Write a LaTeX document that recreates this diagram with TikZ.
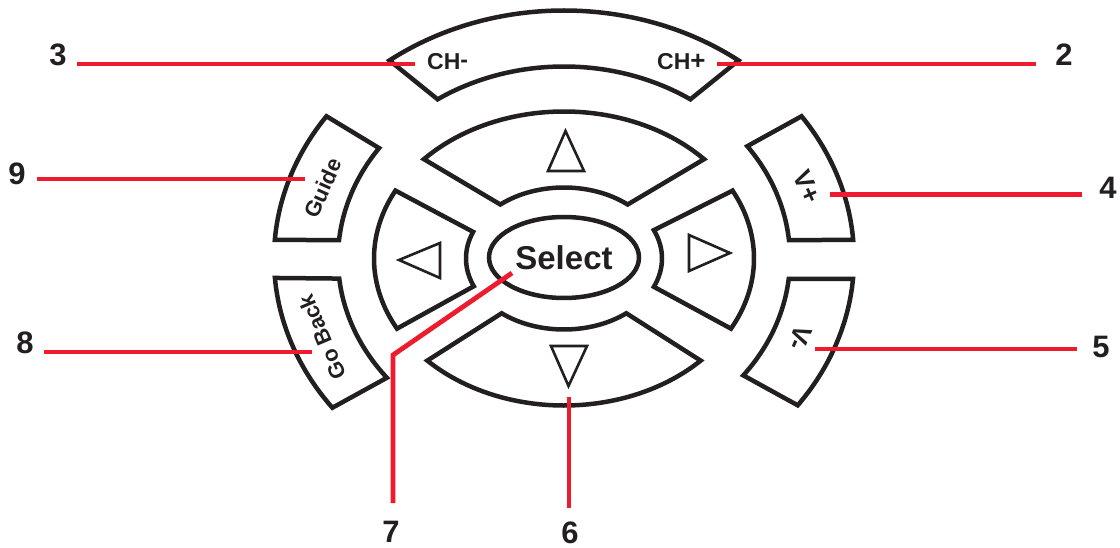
\documentclass[tikz,border=0pt]{standalone}
\usepackage{fontspec}
\setmainfont{Liberation Sans}
\usetikzlibrary{shapes.geometric}
\definecolor{ink}{RGB}{35,31,32}
\definecolor{leadred}{RGB}{237,27,45}
\newcommand\ringbutton[8]{%
  \draw[btnline] ([shift={(C)}]#1:#5 and #6) arc[start angle=#1, end angle=#2, x radius=#5, y radius=#6]
    -- ([shift={(C)}]#3:#7 and #8) arc[start angle=#3, end angle=#4, x radius=#7, y radius=#8] -- cycle;}
\newcommand\fsz[1]{\fontsize{#1}{#1}\selectfont}
\tikzset{
  btnline/.style={draw=ink, line width=4.5pt, fill=white},
  arrowtri/.style={draw=ink, line width=2.6pt},
  lead/.style={draw=leadred, line width=4.8pt},
  numlabel/.style={text=ink, font=\bfseries\fsz{31}, inner sep=0pt},
  btntext/.style={text=ink, font=\bfseries\fsz{22}, inner sep=0pt},
}
\begin{document}
\begin{tikzpicture}[x=1pt,y=1pt]
\useasboundingbox (0,0) rectangle (1120,547);
\coordinate (C) at (564,288.5);
% outer ring buttons
\ringbutton{53}{127}{124}{56}{290pt}{248pt}{226pt}{192pt}
\ringbutton{145}{175.7}{174.5}{144.9}{290pt}{248pt}{226pt}{192pt}
\ringbutton{184.5}{217}{218.4}{186}{290pt}{248pt}{226pt}{192pt}
\ringbutton{35}{4.3}{5.5}{35.8}{290pt}{248pt}{226pt}{192pt}
\ringbutton{-4.7}{-36.3}{-37.5}{-6.1}{290pt}{248pt}{226pt}{192pt}
% d-pad
\ringbutton{42.5}{137.5}{130.5}{49.5}{190pt}{147pt}{98pt}{71pt}
\ringbutton{224}{316}{309.5}{230.5}{190pt}{147pt}{98pt}{71pt}
\ringbutton{152.5}{208.5}{203}{158}{190pt}{147pt}{98pt}{71pt}
\ringbutton{-28.5}{27.5}{23.5}{-23.5}{190pt}{147pt}{98pt}{71pt}
% arrows
\draw[arrowtri] (565.5,416) -- (548,376) -- (584,376) -- cycle;
\draw[arrowtri] (551,201) -- (587,201) -- (568.5,161) -- cycle;
\draw[arrowtri] (399,287) -- (440,304) -- (440,269) -- cycle;
\draw[arrowtri] (689,312) -- (689,276) -- (730,294) -- cycle;
% select
\node[ellipse, draw=ink, line width=4.5pt, minimum width=150pt, minimum height=81pt, inner sep=0pt,
      text=ink, font=\bfseries\fsz{33}] (sel) at (564,289.5) {Select};
% button texts
\node[btntext, font=\bfseries\fsz{23}, anchor=base west] (chm) at (427,477) {CH\raisebox{0.1em}{-}};
\node[btntext, font=\bfseries\fsz{23}, anchor=base west] (chp) at (657,477) {CH\raisebox{0.02em}{\fsz{26}+}};
\node[btntext, rotate=66] (guide) at (323,359) {Guide};
\node[btntext, rotate=113] (goback) at (322,210) {Go Back};
\node[btntext, font=\bfseries\fsz{26}, rotate=-66] (vp) at (807,360) {V+};
\node[btntext, font=\bfseries\fsz{26}, rotate=-113] (vm) at (800,209) {V-};
% numbers
\node[numlabel] (n3) at (58,492) {3};
\node[numlabel] (n2) at (1064,492) {2};
\node[numlabel] (n9) at (17,373) {9};
\node[numlabel] (n4) at (1108,359) {4};
\node[numlabel] (n8) at (25,204) {8};
\node[numlabel] (n5) at (1101,200) {5};
\node[numlabel] (n7) at (391,15) {7};
\node[numlabel] (n6) at (570,14) {6};
% leader coordinates
\coordinate (s3) at (77,483);   \coordinate (p3) at (415,483);
\coordinate (s2) at (1036,483); \coordinate (p2) at (717,483);
\coordinate (s9) at (37,368);   \coordinate (p9) at (305,368);
\coordinate (s4) at (1082,352.5); \coordinate (p4) at (830,352.5);
\coordinate (s8) at (44,195);   \coordinate (p8) at (312,195);
\coordinate (s5) at (1077,198); \coordinate (p5) at (815,198);
\coordinate (s7) at (393,44);   \coordinate (k7) at (393,192); \coordinate (p7) at (512,274);
\coordinate (s6) at (569,39);   \coordinate (p6) at (569,150);
\draw[lead] (s3) -- (p3);
\draw[lead] (s2) -- (p2);
\draw[lead] (s9) -- (p9);
\draw[lead] (s4) -- (p4);
\draw[lead] (s8) -- (p8);
\draw[lead] (s5) -- (p5);
\draw[lead] (s7) -- (k7) -- (p7);
\draw[lead] (s6) -- (p6);
\end{tikzpicture}
\end{document}
